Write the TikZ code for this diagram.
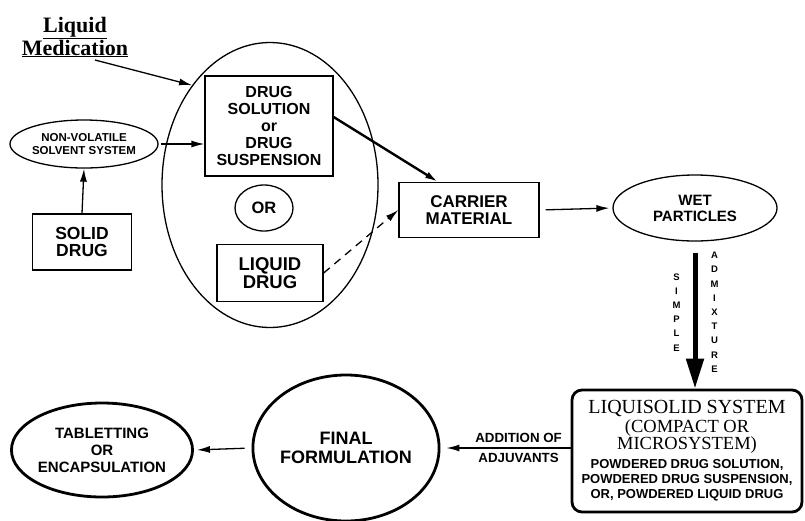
\documentclass[tikz,border=0pt]{standalone}
\usepackage{fontspec}
\setmainfont{Liberation Serif}
\setsansfont{Liberation Sans}
\usetikzlibrary{shapes.geometric,arrows.meta,positioning}
\tikzset{
  box/.style={draw,line width=1.3pt,align=center,inner sep=2pt,font=\sffamily\bfseries},
  oval/.style={ellipse,draw,line width=1.3pt,align=center,inner sep=0pt,font=\sffamily\bfseries},
  thickoval/.style={oval,line width=2.8pt},
  flow/.style={-{Latex[length=13pt,width=7pt]},line width=1.3pt},
  bigflow/.style={-{Triangle[length=30pt,width=17pt]},line width=5pt},
  letters/.style={align=center,inner sep=1pt,font=\sffamily\bfseries\fontsize{9.5}{14.2}\selectfont},
}
\newcommand{\serifline}[2]{{\rmfamily\mdseries\fontsize{#1}{#1}\selectfont #2}}

\begin{document}
\begin{tikzpicture}[x=1pt,y=-1pt]
\useasboundingbox (0,0) rectangle (805,520);
% left part
\node[font=\rmfamily\bfseries\fontsize{22}{23}\selectfont,align=center] (liqlabel) at (75,37) {\underline{Liquid}\\\underline{Medication}};
\coordinate (lmstart) at (95,60);
\node[oval,minimum width=216pt,minimum height=285pt] (bigell) at (270,185) {};
\node[box,minimum width=128pt,minimum height=100pt,font=\sffamily\bfseries\fontsize{16}{17}\selectfont] (drugsol) at (269,126) {DRUG\\SOLUTION\\or\\DRUG\\SUSPENSION};
\node[oval,minimum width=58pt,minimum height=46pt,font=\sffamily\bfseries\fontsize{16.5}{17}\selectfont] (or) at (264,208) {OR};
\node[box,minimum width=106pt,minimum height=57pt,font=\sffamily\bfseries\fontsize{18.5}{16.5}\selectfont] (liqdrug) at (270,273) {LIQUID\\DRUG};
\node[oval,minimum width=148pt,minimum height=48pt,font=\sffamily\bfseries\fontsize{11.5}{13.3}\selectfont] (nonvol) at (84,144) {NON-VOLATILE\\SOLVENT SYSTEM};
\node[box,minimum width=99pt,minimum height=56pt,font=\sffamily\bfseries\fontsize{17.5}{17.5}\selectfont] (solid) at (82,242) {SOLID\\DRUG};
% middle and right
\node[box,minimum width=140pt,minimum height=55pt,font=\sffamily\bfseries\fontsize{17}{17}\selectfont] (carrier) at (469,210) {CARRIER\\MATERIAL};
\node[oval,minimum width=164pt,minimum height=66pt,font=\sffamily\bfseries\fontsize{15}{16}\selectfont] (wet) at (695,208) {WET\\PARTICLES};
\node[box,rounded corners=10pt,line width=2.8pt,minimum width=230pt,minimum height=122pt,font=\sffamily\bfseries\fontsize{13}{15}\selectfont] (liqsol) at (687,451)
  {\serifline{20}{LIQUISOLID SYSTEM}\\[1pt]
  \serifline{18.5}{(COMPACT OR}\\
  \serifline{18.5}{MICROSYSTEM)}\\[4pt]
  POWDERED DRUG SOLUTION,\\
  POWDERED DRUG SUSPENSION,\\
  OR, POWDERED LIQUID DRUG};
\node[thickoval,minimum width=182pt,minimum height=146pt,font=\sffamily\bfseries\fontsize{18}{19}\selectfont] (final) at (346,448) {FINAL\\FORMULATION};
\node[thickoval,minimum width=174pt,minimum height=94pt,font=\sffamily\bfseries\fontsize{15}{17}\selectfont] (tablet) at (102,450) {TABLETTING\\OR\\ENCAPSULATION};
% arrows
\draw[flow] (lmstart) -- (bigell.128);
\draw[flow,shorten <=2pt] (nonvol.east) -- (nonvol.east -| drugsol.west);
\draw[flow] (solid.north) -- (nonvol.south);
\draw[flow,line width=2.4pt] ([yshift=9pt]drugsol.east) -- ([xshift=-31pt]carrier.north);
\draw[flow,dashed,dash pattern=on 8pt off 6pt] (liqdrug.east) -- (carrier.west);
\draw[flow,shorten <=6pt,shorten >=3pt] (carrier.east) -- (wet.west);
\draw[bigflow,shorten <=11pt] (wet.south) -- (wet.south |- liqsol.north)
  node[letters,pos=0.48,left=11pt] {S\\I\\M\\P\\L\\E}
  node[letters,pos=0.48,right=12pt] {A\\D\\M\\I\\X\\T\\U\\R\\E};
\draw[flow,shorten >=6pt] ([yshift=3pt]liqsol.west) -- ([yshift=3pt]liqsol.west -| final.east)
  node[pos=0.4,above=1pt,font=\sffamily\bfseries\fontsize{13.3}{14}\selectfont] {ADDITION OF}
  node[pos=0.4,below=1pt,font=\sffamily\bfseries\fontsize{13.3}{14}\selectfont] {ADJUVANTS};
\draw[flow,shorten <=7pt,shorten >=3pt] (final.west) -- (tablet.east);
\end{tikzpicture}
\end{document}
